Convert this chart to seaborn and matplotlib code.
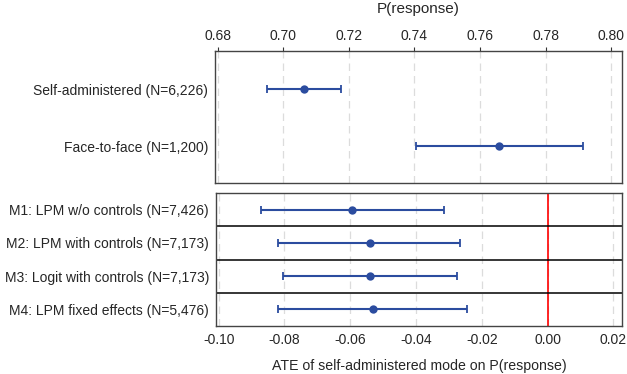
import numpy as np
import pandas as pd
import matplotlib
matplotlib.use("Agg")
import matplotlib.pyplot as plt
import seaborn as sns

# Data
mode_labels = ["Self-administered (N=6,226)", "Face-to-face (N=1,200)"]
mode_est = [0.7064, 0.7658]
mode_lo = [0.6952, 0.7404]
mode_hi = [0.7177, 0.7913]

model_labels = ["M1: LPM w/o controls (N=7,426)",
                "M2: LPM with controls (N=7,173)",
                "M3: Logit with controls (N=7,173)",
                "M4: LPM fixed effects (N=5,476)"]
ate_est = [-0.0595, -0.0541, -0.0539, -0.0531]
ate_lo = [-0.0872, -0.0819, -0.0803, -0.0819]
ate_hi = [-0.0315, -0.0266, -0.0277, -0.0244]

top_ticks = [0.68, 0.70, 0.72, 0.74, 0.76, 0.78, 0.80]
bot_ticks = [-0.10, -0.08, -0.06, -0.04, -0.02, 0.00, 0.02]

sns.set_style("white")
plt.rcParams['font.family'] = ['Liberation Sans', 'DejaVu Sans']
plt.rcParams['font.size'] = 10

blue = "#2B4C9F"

fig = plt.figure(figsize=(6.27, 3.74), dpi=100)
ax1 = fig.add_axes([215 / 627, 1 - 183 / 374, 407 / 627, 132 / 374])
ax2 = fig.add_axes([216 / 627, 1 - 326 / 374, 406 / 627, 133 / 374])


def draw(ax, labels, est, lo, hi):
    df = pd.DataFrame({"label": labels, "est": est, "lo": lo, "hi": hi})
    df["y"] = np.arange(len(df))
    err = [df["est"] - df["lo"], df["hi"] - df["est"]]
    ax.errorbar(df["est"], df["y"], xerr=err, fmt="none", ecolor=blue,
                elinewidth=1.5, capsize=2.6, capthick=1.3, zorder=3)
    sns.scatterplot(data=df, x="est", y="y", ax=ax, color=blue, s=36,
                    edgecolor=blue, linewidth=0, zorder=4)
    ax.set_yticks(df["y"])
    ax.set_yticklabels(labels)
    ax.set_ylabel("")
    ax.tick_params(axis="y", length=3, width=0.8, color="#333333", pad=2)
    ax.tick_params(axis="x", length=3, width=0.8, color="#333333", pad=2)
    ax.grid(axis="x", color="#dcdcdc", linestyle=(0, (6, 4)), linewidth=0.9)
    ax.set_axisbelow(True)
    for s in ax.spines.values():
        s.set_color("#444444")
        s.set_linewidth(1.0)


draw(ax1, mode_labels, mode_est, mode_lo, mode_hi)
ax1.set_xlim(0.6792, 0.8033)
ax1.set_ylim(1.64, -0.67)
ax1.set_xticks(top_ticks)
ax1.set_xticklabels([f"{t:.2f}" for t in top_ticks])
ax1.xaxis.tick_top()
ax1.xaxis.set_label_position("top")
ax1.tick_params(axis="x", pad=3)
ax1.set_xlabel("P(response)", fontsize=11, labelpad=11)

draw(ax2, model_labels, ate_est, ate_lo, ate_hi)
ax2.set_xlim(-0.1008, 0.0226)
ax2.set_ylim(3.5, -0.5)
ax2.set_xticks(bot_ticks)
ax2.set_xticklabels([f"{t:.2f}" for t in bot_ticks])
ax2.set_xlabel("ATE of self-administered mode on P(response)", fontsize=10.2,
               labelpad=9)
ax2.axvline(0, color="#ff0000", linewidth=1.2, zorder=2)
for yy in [0.5, 1.5, 2.5]:
    ax2.axhline(yy, color="black", linewidth=1.1, zorder=2)

fig.savefig("out.png", dpi=100)
